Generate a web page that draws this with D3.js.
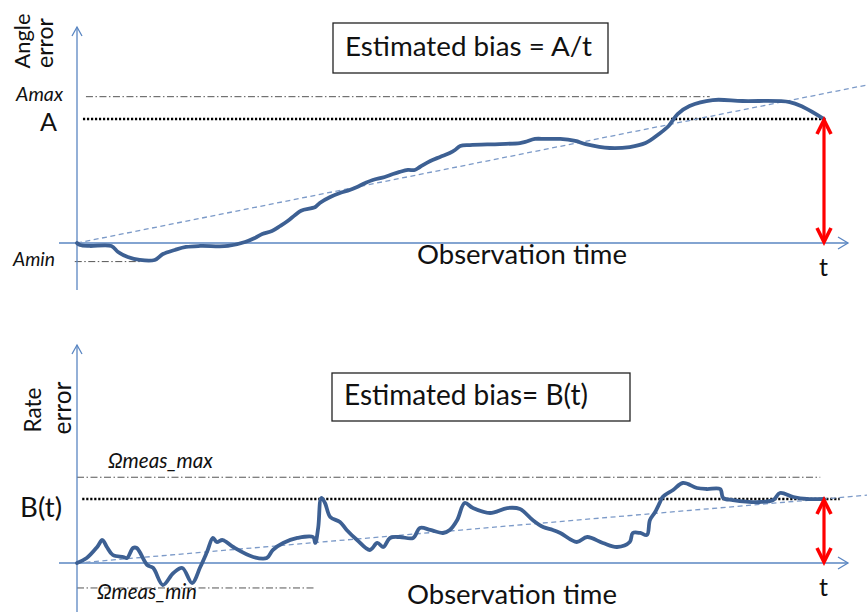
<!DOCTYPE html>
<html>
<head>
<meta charset="utf-8">
<script src="https://cdn.jsdelivr.net/npm/d3@7"></script>
<style>
  html, body { margin: 0; background: #fff; }
  svg { display: block; }
</style>
</head>
<body>
<div id="chart"></div>
<script>
// time is in % of the observation window t, errors in units where A = B(t) = 10

// angle error over time [t, value]
const angleError = [
  [0, 0], [0.4, -0.16], [1.7, -0.24], [4.6, -0.24], [5.5, -0.73], [6.8, -1.13],
  [8.4, -1.37], [10.4, -1.37], [11.5, -0.89], [13.1, -0.56], [14.6, -0.32],
  [16.5, -0.24], [20.2, -0.24], [22.5, 0.08], [23.8, 0.4], [24.8, 0.73],
  [26.1, 0.97], [27.2, 1.37], [28.2, 1.77], [29.2, 2.26], [30.0, 2.6],
  [31.9, 2.9], [32.5, 3.23], [33.9, 3.71], [35.2, 4.03], [36.5, 4.27],
  [37.5, 4.52], [38.6, 4.84], [39.6, 5.08], [41.2, 5.32], [42.3, 5.56],
  [43.2, 5.73], [44.3, 5.89], [45.2, 5.89], [45.9, 6.13], [47.3, 6.61],
  [48.6, 6.94], [49.9, 7.26], [50.6, 7.5], [51.3, 7.82], [52.6, 7.9],
  [56.6, 7.98], [59.3, 8.06], [60.0, 8.15], [61.3, 8.39], [62.7, 8.39],
  [64.7, 8.39], [66.7, 8.23], [68.1, 7.98], [71.3, 7.66], [74.0, 7.74],
  [76.1, 8.06], [77.9, 8.79], [79.2, 9.44], [80.4, 10.4], [82.0, 11.05],
  [85.1, 11.53], [89.1, 11.45], [95.4, 11.37], [97.2, 10.97], [100, 10.0]
];

// rate error over time [t, value]
const rateError = [
  [0, 0], [1.3, 0.78], [2.7, 2.5], [3.4, 3.59], [4.0, 2.5], [4.8, 1.25],
  [6.2, 0.94], [6.7, 0.78], [7.5, 2.34], [8.0, 2.34], [9.4, -0.31],
  [10.2, -0.78], [11.5, -3.44], [12.9, -1.56], [14.1, -0.78], [15.4, -3.13],
  [16.5, -0.63], [17.4, 1.72], [18.2, 3.91], [18.7, 3.28], [19.5, 3.59],
  [20.9, 2.5], [23.6, 0.94], [25.4, 0.78], [26.2, 2.03], [27.6, 3.13],
  [29.5, 3.91], [31.6, 4.06], [31.9, 3.13], [32.3, 5.63], [32.7, 10.16],
  [33.2, 9.38], [33.9, 7.19], [35.2, 6.41], [36.1, 5.16], [37.5, 3.59],
  [39.2, 2.03], [40.2, 3.13], [41.0, 2.5], [41.9, 3.91], [43.2, 4.06],
  [45.0, 3.91], [45.9, 5.47], [47.3, 5.16], [49.0, 4.69], [49.9, 5.16],
  [50.9, 6.72], [51.9, 9.38], [53.0, 8.59], [55.3, 7.81], [57.6, 8.59],
  [59.3, 8.44], [61.0, 6.72], [62.4, 5.63], [63.7, 5.16], [64.7, 4.69],
  [66.9, 3.28], [68.3, 4.06], [70.4, 3.13], [72.3, 2.5], [74.0, 3.28],
  [74.4, 4.69], [75.4, 4.69], [76.3, 4.38], [76.7, 6.72], [77.4, 7.97],
  [78.0, 9.38], [78.4, 10.31], [79.8, 11.41], [81.1, 12.5], [83.0, 11.72],
  [84.3, 11.56], [86.1, 11.56], [86.5, 10.16], [87.8, 9.84], [91.4, 9.53],
  [93.2, 9.84], [94.1, 10.94], [95.9, 10.31], [97.7, 10.0], [100, 10.0]
];

// estimated-bias trend lines [t, value] (start, end)
const angleTrend = [[0, 0], [105.8, 12.75]];
const rateTrend = [[0, 0], [105.8, 10.6]];

// reference levels
const angleLevels = [11.8, 10, -1.5];   // Amax, A, Amin
const rateLevels = [13.4, 10, -3.9];    // Ωmeas_max, B(t), Ωmeas_min

const width = 867, height = 612;
const font = 'Lato, "Open Sans", sans-serif';

const svg = d3.select('#chart').append('svg')
  .attr('width', width).attr('height', height);

const x = d3.scaleLinear().domain([0, 100]).range([77, 824]);

function fit(sel, w) {
  const len = sel.node().getComputedTextLength();
  const fs = parseFloat(sel.attr('font-size'));
  sel.attr('font-size', (fs * w / len).toFixed(2));
  return sel;
}

function drawPanel(p) {
  const y = d3.scaleLinear().domain([0, 10]).range([p.zero, p.level]);
  const g = svg.append('g');
  const [hi, mid, lo] = p.levels;

  const path = d3.line().x(d => x(d[0])).y(d => y(d[1]));
  const smooth = d3.line().x(d => x(d[0])).y(d => y(d[1]))
    .curve(d3.curveCatmullRom.alpha(0.5));

  // dash-dot max / min bands
  g.append('line')
    .attr('x1', x(p.hiSpan[0])).attr('x2', x(p.hiSpan[1]))
    .attr('y1', y(hi)).attr('y2', y(hi))
    .attr('stroke', '#555').attr('stroke-width', 1)
    .attr('stroke-dasharray', '7,2.5,1.5,2.5');
  g.append('line')
    .attr('x1', x(p.loSpan[0])).attr('x2', x(p.loSpan[1]))
    .attr('y1', y(lo)).attr('y2', y(lo))
    .attr('stroke', '#555').attr('stroke-width', 1)
    .attr('stroke-dasharray', '7,2.5,1.5,2.5');

  // dotted level line
  g.append('line')
    .attr('x1', x(p.midSpan[0])).attr('x2', x(p.midSpan[1]))
    .attr('y1', y(mid)).attr('y2', y(mid))
    .attr('stroke', '#000').attr('stroke-width', 2.4)
    .attr('stroke-dasharray', '2.2,1.8');

  // axes
  const ax = '#5a86c2';
  g.append('line')
    .attr('x1', x(0)).attr('x2', x(0))
    .attr('y1', p.axisBottom).attr('y2', p.axisTop)
    .attr('stroke', ax).attr('stroke-width', 1.3);
  g.append('path')
    .attr('d', `M${x(0) - 5},${p.axisTop + 9}L${x(0)},${p.axisTop}L${x(0) + 5},${p.axisTop + 9}`)
    .attr('fill', 'none').attr('stroke', ax).attr('stroke-width', 1.3);
  g.append('line')
    .attr('x1', 59).attr('x2', 848)
    .attr('y1', y(0)).attr('y2', y(0))
    .attr('stroke', ax).attr('stroke-width', 1.3);
  g.append('path')
    .attr('d', `M838,${y(0) - 6}L848,${y(0)}L838,${y(0) + 6}`)
    .attr('fill', 'none').attr('stroke', ax).attr('stroke-width', 1.3);

  // trend (dashed)
  g.append('path')
    .attr('d', path(p.trend))
    .attr('fill', 'none').attr('stroke', '#7c9ac8').attr('stroke-width', 1.3)
    .attr('stroke-dasharray', '5,3.5');

  // error curve
  g.append('path')
    .attr('d', smooth(p.series))
    .attr('fill', 'none').attr('stroke', '#3d6093').attr('stroke-width', 3.8)
    .attr('stroke-linejoin', 'round').attr('stroke-linecap', 'round');

  // red double arrow at t
  const ex = x(100), y1 = y(mid) + 1, y2 = y(0) - 1;
  g.append('line')
    .attr('x1', ex).attr('x2', ex).attr('y1', y1 + 2).attr('y2', y2 - 2)
    .attr('stroke', '#ff0000').attr('stroke-width', 3.2);
  g.append('path')
    .attr('d', `M${ex - 7},${y1 + 14}L${ex},${y1}L${ex + 7},${y1 + 14}` +
               `M${ex - 7},${y2 - 14}L${ex},${y2}L${ex + 7},${y2 - 14}`)
    .attr('fill', 'none').attr('stroke', '#ff0000').attr('stroke-width', 3.6)
    .attr('stroke-linejoin', 'miter');

  // box title
  g.append('rect')
    .attr('x', p.box[0]).attr('y', p.box[1])
    .attr('width', p.box[2]).attr('height', p.box[3])
    .attr('fill', '#fff').attr('stroke', '#222').attr('stroke-width', 1.3);
  fit(g.append('text')
    .attr('x', p.box[0] + 12).attr('y', p.box[1] + p.box[3] / 2 + 8)
    .attr('font-family', font).attr('font-size', 22).attr('fill', '#111')
    .text(p.title), p.titleW);

  // axis captions
  fit(g.append('text')
    .attr('x', p.obsX).attr('y', y(0) + p.obsDy)
    .attr('font-family', font).attr('font-size', 22).attr('fill', '#111')
    .text('Observation time'), 210);
  fit(g.append('text')
    .attr('x', ex - 5).attr('y', y(0) + 33)
    .attr('font-family', font).attr('font-size', 22).attr('fill', '#111')
    .text('t'), 9);

  p.yTitle.forEach(t => {
    fit(g.append('text')
      .attr('transform', `translate(${t.x},${t.y}) rotate(-90)`)
      .attr('text-anchor', 'middle')
      .attr('font-family', font).attr('font-size', 20).attr('fill', '#111')
      .text(t.text), t.w);
  });

  p.labels.forEach(l => {
    fit(g.append('text')
      .attr('x', l.x).attr('y', y(l.v) + l.dy)
      .attr('text-anchor', l.anchor)
      .attr('font-family', font).attr('font-size', l.size)
      .attr('font-style', l.italic ? 'italic' : 'normal')
      .attr('fill', '#111')
      .text(l.text), l.w);
  });
}

drawPanel({
  zero: 243, level: 119, axisTop: 27, axisBottom: 290,
  series: angleError, trend: angleTrend, levels: angleLevels,
  hiSpan: [1.2, 84.7], midSpan: [0.8, 100.4], loSpan: [-0.3, 8.5],
  box: [333, 23, 275, 50], title: 'Estimated bias = A/t', titleW: 247,
  obsX: 417, obsDy: 21,
  yTitle: [
    { text: 'Angle', x: 30, y: 41, w: 55 },
    { text: 'error', x: 53, y: 43, w: 50 }
  ],
  labels: [
    { text: 'Amax', v: angleLevels[0], x: 63, dy: 4, anchor: 'end', size: 13, italic: true, w: 47 },
    { text: 'A', v: angleLevels[1], x: 57, dy: 12, anchor: 'end', size: 22, italic: false, w: 17 },
    { text: 'Amin', v: angleLevels[2], x: 55, dy: 4, anchor: 'end', size: 13, italic: true, w: 42 }
  ]
});

drawPanel({
  zero: 563, level: 499, axisTop: 345, axisBottom: 612,
  series: rateError, trend: rateTrend, levels: rateLevels,
  hiSpan: [0, 99.5], midSpan: [0.7, 102.1], loSpan: [0, 31.9],
  box: [332, 373, 298, 48], title: 'Estimated bias= B(t)', titleW: 244,
  obsX: 407, obsDy: 41,
  yTitle: [
    { text: 'Rate', x: 41, y: 410, w: 45 },
    { text: 'error', x: 71, y: 408, w: 53 }
  ],
  labels: [
    { text: 'Ωmeas_max', v: rateLevels[0], x: 108, dy: -9, anchor: 'start', size: 14, italic: true, w: 105 },
    { text: 'B(t)', v: rateLevels[1], x: 62, dy: 18, anchor: 'end', size: 22, italic: false, w: 42 },
    { text: 'Ωmeas_min', v: rateLevels[2], x: 97, dy: 11, anchor: 'start', size: 14, italic: true, w: 100 }
  ]
});
</script>
</body>
</html>
